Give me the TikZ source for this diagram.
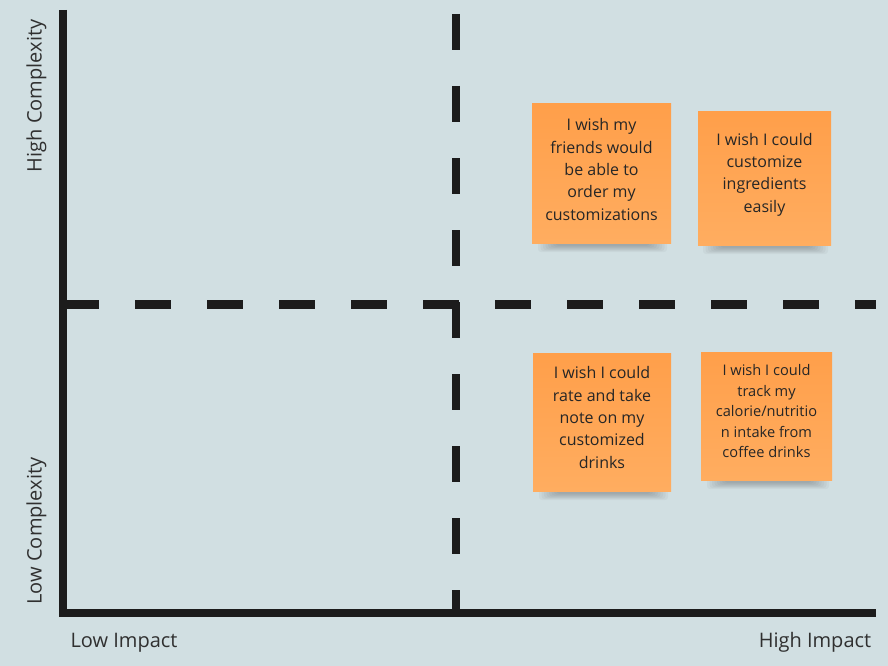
\documentclass[tikz,border=0pt]{standalone}
\usepackage{fontspec}
\setmainfont{Open Sans}
\usetikzlibrary{shadings}
\definecolor{bg}{HTML}{D1DFE2}
\definecolor{axisc}{HTML}{1C1C1C}
\definecolor{notetop}{HTML}{FF9F4A}
\definecolor{notebot}{HTML}{FFAD60}
\definecolor{txt}{HTML}{262626}
\definecolor{labc}{HTML}{303030}
\tikzset{
  axisline/.style={draw=axisc, line width=7.5pt},
  divline/.style={draw=axisc, line width=8.8pt, dash pattern=on 36pt off 36pt},
  sticky/.style={rectangle, inner sep=0pt, top color=notetop, bottom color=notebot, draw=none,
     align=center, text=txt},
  notetext/.style={font=\fontsize{16}{22.3}\selectfont},
  smalltext/.style={font=\fontsize{14.6}{20.5}\selectfont},
  axlabel/.style={text=labc, font=\fontsize{20}{24}\selectfont, inner sep=0pt},
}
\newcommand{\undershadow}[3]{%
  \foreach \k in {0,1,...,7}{
    \fill[black!80, opacity=0.045, rounded corners=3pt] (#1+\k*2.5,#3-4) rectangle (#2-\k*2.5,#3+9-\k*0.9);
  }}
\begin{document}
\begin{tikzpicture}[x=1pt,y=-1pt]
\fill[bg] (0,0) rectangle (888,666);
\useasboundingbox (0,0) rectangle (888,666);

% shadows
\undershadow{538}{667}{243}
\undershadow{703}{828}{245}
\undershadow{539}{668}{491}
\undershadow{707}{829}{480}

% divider lines
\draw[divline] (63,304.5) -- (876,304.5);
\draw[divline] (456,14) -- (456,613);

% axes
\draw[axisline] (63,10) -- (63,613);
\draw[axisline] (59.25,613) -- (876,613);

% sticky notes
\node[sticky, minimum width=139pt, minimum height=139pt] (n1) at (601.5,173.5) {};
\node[notetext, align=center, text=txt] (t1) at (601.5,169.5) {I wish my\\friends would\\be able to\\order my\\customizations};
\node[sticky, minimum width=133pt, minimum height=133pt] (n2) at (764.5,178.5) {};
\node[notetext, align=center, text=txt] (t2) at (764.5,174.5) {I wish I could\\customize\\ingredients\\easily};
\node[sticky, minimum width=138pt, minimum height=138pt] (n3) at (602,422) {};
\node[notetext, align=center, text=txt] (t3) at (602,417.5) {I wish I could\\rate and take\\note on my\\customized\\drinks};
\node[sticky, minimum width=131pt, minimum height=128pt] (n4) at (766.5,416) {};
\node[smalltext, align=center, text=txt] (t4) at (766.5,411.5) {I wish I could\\track my\\calorie/nutritio\\n intake from\\coffee drinks};

% axis labels
\node[axlabel, rotate=90] (hc) at (36.5,96) {High Complexity};
\node[axlabel, rotate=90] (lc) at (36.5,531) {Low Complexity};
\node[axlabel, anchor=base] (li) at (124,647.5) {Low Impact};
\node[axlabel, anchor=base] (hi) at (815,647.5) {High Impact};
\end{tikzpicture}
\end{document}
